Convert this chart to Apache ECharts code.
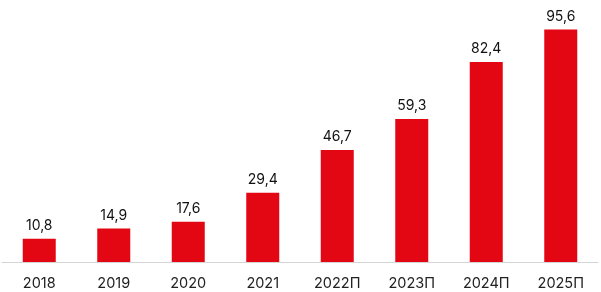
<!DOCTYPE html>
<html><head><meta charset="utf-8">
<script src="https://cdn.jsdelivr.net/npm/echarts@6/dist/echarts.min.js"></script>
<style>html,body{margin:0;padding:0;background:#fff}#c{width:601px;height:292px}</style>
</head><body><div id="c"></div>
<script>
const categories = ['2018','2019','2020','2021','2022П','2023П','2024П','2025П'];
const values = [10.8, 14.9, 17.6, 29.4, 46.7, 59.3, 82.4, 95.6];

const chart = echarts.init(document.getElementById('c'), null, {renderer:'canvas'});
chart.setOption({
  animation: false,
  grid: {left: 2, right: 3, top: 20, bottom: 30},
  xAxis: {
    type: 'category', data: categories,
    axisLine: {show: true, lineStyle: {color: '#d4d4d4', width: 1}},
    axisTick: {show: false},
    axisLabel: {color: '#222', fontSize: 14.5, fontFamily: 'Inter', margin: 14}
  },
  yAxis: {type: 'value', min: 1.34, max: 99.4, show: false, splitLine: {show: false}},
  series: [{
    type: 'bar', data: values, barWidth: 33,
    itemStyle: {color: '#E30613'},
    label: {show: true, position: 'top', distance: 6, color: '#111', fontSize: 14, fontFamily: 'Inter',
      formatter: p => String(p.value).replace('.', ',')}
  }]
});
</script></body></html>
